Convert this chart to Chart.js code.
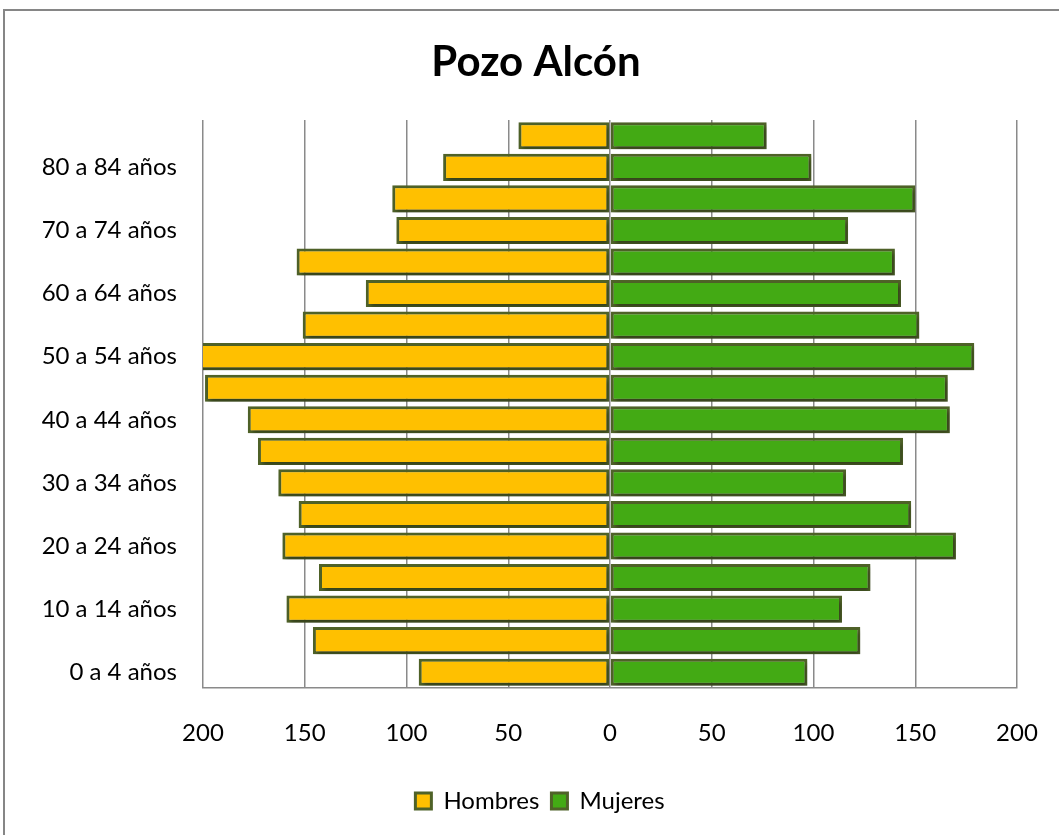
<!DOCTYPE html>
<html>
<head>
<meta charset="utf-8">
<script src="https://cdn.jsdelivr.net/npm/chart.js@4/dist/chart.umd.min.js"></script>
<style>
    html, body { margin: 0; padding: 0; background: #fff; overflow: hidden; }
    #marco {
        position: absolute; left: 3px; top: 9px; width: 1100px; height: 900px;
        border: 2px solid #868686; box-sizing: border-box;
    }
    #wrap { position: absolute; left: 0; top: 0; width: 1059px; height: 835px; }
</style>
</head>
<body>
<div id="marco"></div>
<div id="wrap"><canvas id="piramide" width="1059" height="835"></canvas></div>
<script>
// grupos de edad, de abajo (0 a 4) hacia arriba
const grupos = ['0 a 4 años', '5 a 9 años', '10 a 14 años', '15 a 19 años', '20 a 24 años',
    '25 a 29 años', '30 a 34 años', '35 a 39 años', '40 a 44 años', '45 a 49 años',
    '50 a 54 años', '55 a 59 años', '60 a 64 años', '65 a 69 años', '70 a 74 años',
    '75 a 79 años', '80 a 84 años', '85 y más'];
const hombres = [94, 146, 159, 143, 161, 153, 163, 173, 178, 199, 208, 151, 120, 154, 105, 107, 82, 45];
const mujeres = [97, 123, 114, 128, 170, 148, 116, 144, 167, 166, 179, 152, 143, 140, 117, 150, 99, 77];
const ticksX = [-200, -150, -100, -50, 0, 50, 100, 150, 200];
const titulo = 'Pozo Alcón';

const fuente = 'Lato, "Open Sans", sans-serif';

// sombra suave debajo de las barras, como en Excel
const sombra = {
    id: 'sombra',
    beforeDatasetsDraw(chart) {
        const ctx = chart.ctx;
        ctx.save();
        ctx.shadowColor = 'rgba(0,0,0,0.35)';
        ctx.shadowBlur = 4;
        ctx.shadowOffsetX = 2;
        ctx.shadowOffsetY = 3;
    },
    afterDatasetsDraw(chart) {
        chart.ctx.restore();
    }
};

// título centrado sobre todo el marco (no sobre el área del gráfico)
const tituloPlugin = {
    id: 'tituloPlugin',
    afterDraw(chart) {
        const ctx = chart.ctx;
        ctx.save();
        ctx.font = 'bold 42px ' + fuente;
        ctx.fillStyle = '#000';
        ctx.textAlign = 'center';
        ctx.textBaseline = 'middle';
        ctx.fillText(titulo, 536, 62);
        ctx.restore();
    }
};

const ctx = document.getElementById('piramide').getContext('2d');
new Chart(ctx, {
    type: 'bar',
    data: {
        labels: grupos,
        datasets: [
            {
                label: 'Hombres',
                data: hombres.map(v => -v),
                backgroundColor: '#FFC000',
                borderColor: '#4F6228',
                borderWidth: 3,
                borderSkipped: false
            },
            {
                label: 'Mujeres',
                data: mujeres,
                backgroundColor: '#43AA14',
                borderColor: '#4F6228',
                borderWidth: 3,
                borderSkipped: false
            }
        ]
    },
    options: {
        indexAxis: 'y',
        responsive: false,
        animation: false,
        barPercentage: 0.86,
        categoryPercentage: 1,
        layout: { padding: { left: 21, right: 0, top: 120, bottom: 12 } },
        scales: {
            x: {
                stacked: true,
                min: -200,
                max: 200,
                afterBuildTicks: scale => { scale.ticks = ticksX.map(v => ({ value: v })); },
                afterFit: scale => {
                    scale.height = 89;
                    scale.paddingLeft = 0;
                    scale.paddingRight = 42;
                },
                ticks: {
                    padding: 31,
                    color: '#000',
                    font: { family: fuente, size: 24 },
                    callback: v => Math.abs(v)
                },
                grid: { color: '#8a8a8a', lineWidth: 1.5, drawTicks: false },
                border: { display: true, color: '#8a8a8a', width: 1.5 }
            },
            y: {
                stacked: true,
                reverse: true,
                afterFit: scale => {
                    scale.width = 182;
                    scale.paddingTop = 0;
                    scale.paddingBottom = 0;
                },
                ticks: {
                    autoSkip: false,
                    padding: 26,
                    color: '#000',
                    font: { family: fuente, size: 24 },
                    callback: function (v, i) { return i % 2 === 0 ? this.getLabelForValue(v) : ''; }
                },
                grid: { display: false, drawTicks: false },
                border: { display: false }
            }
        },
        plugins: {
            title: { display: false },
            legend: {
                position: 'bottom',
                labels: {
                    color: '#000',
                    boxWidth: 16,
                    boxHeight: 16,
                    padding: 12,
                    font: { family: fuente, size: 24 }
                }
            },
            tooltip: { enabled: false }
        }
    },
    plugins: [sombra, tituloPlugin]
});
</script>
</body>
</html>
